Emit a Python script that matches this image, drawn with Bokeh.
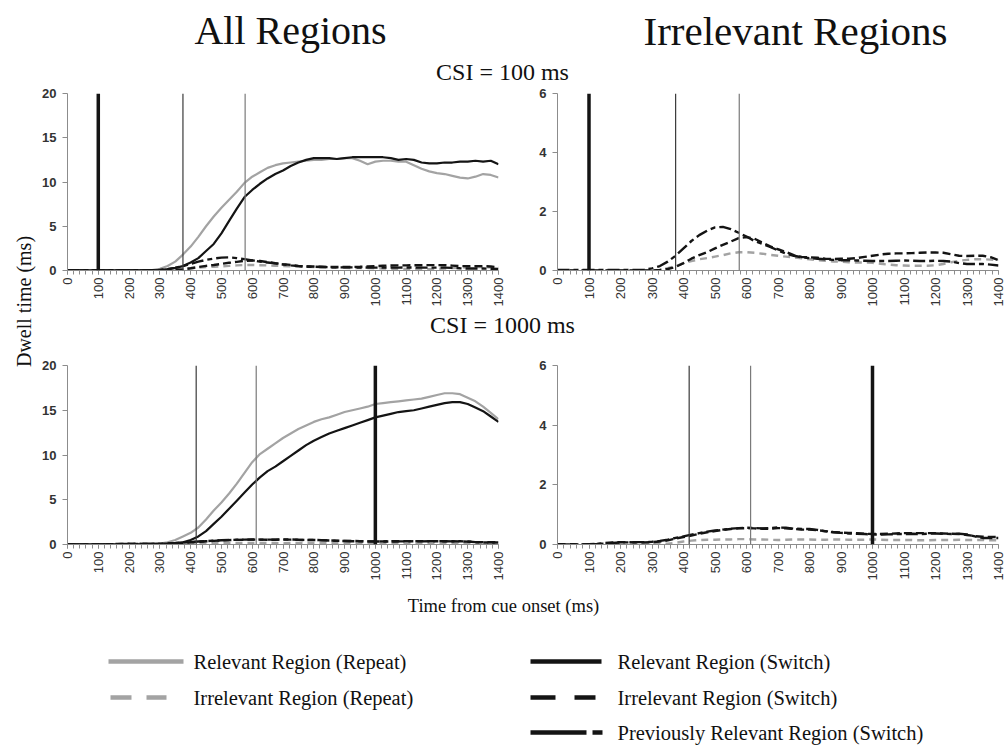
import math
from bokeh.plotting import figure
from bokeh.models import Range1d, Span, Label, SingleIntervalTicker, FixedTicker
from bokeh.layouts import row, column
from bokeh.embed import file_html
from bokeh.resources import INLINE

# ---------------- data ----------------
time_ms = list(range(0, 1401, 25))

# CSI = 100 ms
rel_repeat_100 = [0.02, 0.02, 0.03, 0.02, 0.02, 0.03, 0.02, 0.02, 0.03, 0.02,
                  0.03, 0.05, 0.2, 0.5, 1.0, 1.8, 2.7, 3.8, 5.0, 6.1,
                  7.1, 8.0, 8.9, 9.9, 10.6, 11.1, 11.6, 11.9, 12.1, 12.2,
                  12.3, 12.4, 12.5, 12.5, 12.6, 12.6, 12.7, 12.7, 12.4, 12.0,
                  12.3, 12.4, 12.4, 12.3, 12.3, 11.9, 11.5, 11.2, 11.0, 10.9,
                  10.7, 10.5, 10.4, 10.6, 10.9, 10.8, 10.5]
rel_switch_100 = [0.02, 0.03, 0.02, 0.02, 0.03, 0.02, 0.02, 0.03, 0.02, 0.02,
                  0.02, 0.03, 0.05, 0.15, 0.3, 0.5, 0.9, 1.4, 2.2, 3.0,
                  4.2, 5.6, 7.0, 8.3, 9.1, 9.8, 10.4, 10.9, 11.3, 11.8,
                  12.2, 12.5, 12.7, 12.7, 12.7, 12.6, 12.7, 12.8, 12.8, 12.8,
                  12.8, 12.8, 12.7, 12.5, 12.6, 12.5, 12.2, 12.1, 12.1, 12.2,
                  12.2, 12.3, 12.3, 12.4, 12.3, 12.4, 12.0]
irr_repeat_100 = [0.0, 0.0, 0.0, 0.0, 0.0, 0.0, 0.0, 0.0, 0.0, 0.0,
                  0.0, 0.0, 0.0, 0.02, 0.08, 0.15, 0.24, 0.32, 0.38, 0.42,
                  0.47, 0.52, 0.58, 0.62, 0.62, 0.6, 0.57, 0.53, 0.5, 0.47,
                  0.44, 0.41, 0.38, 0.35, 0.33, 0.3, 0.3, 0.28, 0.27, 0.27,
                  0.26, 0.23, 0.2, 0.18, 0.17, 0.16, 0.16, 0.16, 0.18, 0.22,
                  0.28, 0.33, 0.36, 0.38, 0.38, 0.37, 0.36]
irr_switch_100 = [0.0, 0.0, 0.0, 0.0, 0.0, 0.0, 0.0, 0.0, 0.0, 0.0,
                  0.0, 0.0, 0.0, 0.02, 0.05, 0.12, 0.25, 0.4, 0.52, 0.62,
                  0.75, 0.87, 0.98, 1.1, 1.13, 1.08, 0.95, 0.82, 0.72, 0.63,
                  0.52, 0.46, 0.45, 0.43, 0.4, 0.39, 0.4, 0.4, 0.42, 0.46,
                  0.5, 0.54, 0.57, 0.58, 0.58, 0.59, 0.6, 0.61, 0.61, 0.6,
                  0.55, 0.5, 0.49, 0.5, 0.5, 0.45, 0.35]
prev_switch_100 = [0.02, 0.02, 0.02, 0.02, 0.02, 0.02, 0.02, 0.02, 0.02, 0.02,
                   0.02, 0.03, 0.07, 0.15, 0.3, 0.5, 0.75, 1.0, 1.2, 1.35,
                   1.46, 1.48, 1.4, 1.28, 1.15, 1.0, 0.9, 0.8, 0.68, 0.58,
                   0.5, 0.45, 0.42, 0.4, 0.38, 0.36, 0.35, 0.35, 0.34, 0.33,
                   0.32, 0.32, 0.32, 0.33, 0.34, 0.33, 0.32, 0.32, 0.33, 0.32,
                   0.3, 0.25, 0.22, 0.22, 0.22, 0.2, 0.17]

# CSI = 1000 ms
rel_repeat_1000 = [0.02, 0.03, 0.02, 0.02, 0.03, 0.02, 0.02, 0.03, 0.02, 0.02,
                   0.02, 0.04, 0.1, 0.25, 0.5, 0.9, 1.3, 1.9, 2.8, 3.8,
                   4.7, 5.7, 6.8, 8.0, 9.2, 10.1, 10.7, 11.3, 11.9, 12.4,
                   12.9, 13.3, 13.7, 14.0, 14.2, 14.5, 14.8, 15.0, 15.2, 15.4,
                   15.7, 15.8, 15.9, 16.0, 16.1, 16.2, 16.3, 16.5, 16.7, 16.9,
                   16.9, 16.8, 16.4, 16.0, 15.4, 14.7, 14.0]
rel_switch_1000 = [0.02, 0.02, 0.03, 0.02, 0.02, 0.02, 0.03, 0.02, 0.02, 0.03,
                   0.02, 0.02, 0.03, 0.05, 0.1, 0.25, 0.5, 0.9, 1.5, 2.3,
                   3.1, 4.0, 4.9, 5.8, 6.7, 7.5, 8.2, 8.7, 9.3, 9.9,
                   10.5, 11.1, 11.6, 12.0, 12.4, 12.7, 13.0, 13.3, 13.6, 13.9,
                   14.2, 14.4, 14.6, 14.8, 14.9, 15.0, 15.2, 15.4, 15.6, 15.8,
                   15.9, 15.9, 15.7, 15.3, 14.9, 14.3, 13.7]
irr_repeat_1000 = [0.0, 0.0, 0.0, 0.0, 0.0, 0.0, 0.01, 0.01, 0.02, 0.02,
                   0.02, 0.02, 0.02, 0.02, 0.03, 0.06, 0.1, 0.13, 0.15, 0.16,
                   0.16, 0.17, 0.17, 0.18, 0.18, 0.17, 0.17, 0.16, 0.15, 0.16,
                   0.17, 0.17, 0.17, 0.16, 0.16, 0.17, 0.17, 0.16, 0.16, 0.16,
                   0.17, 0.16, 0.15, 0.15, 0.15, 0.15, 0.14, 0.14, 0.15, 0.15,
                   0.15, 0.16, 0.15, 0.15, 0.15, 0.14, 0.14]
irr_switch_1000 = [0.01, 0.01, 0.01, 0.0, 0.0, 0.02, 0.05, 0.07, 0.08, 0.08,
                   0.07, 0.07, 0.08, 0.1, 0.14, 0.2, 0.25, 0.3, 0.36, 0.41,
                   0.45, 0.49, 0.52, 0.54, 0.55, 0.54, 0.53, 0.53, 0.55, 0.54,
                   0.52, 0.5, 0.5, 0.48, 0.45, 0.42, 0.4, 0.39, 0.38, 0.36,
                   0.35, 0.35, 0.36, 0.37, 0.38, 0.38, 0.38, 0.38, 0.38, 0.37,
                   0.36, 0.35, 0.32, 0.28, 0.26, 0.25, 0.25]
prev_switch_1000 = [0.0, 0.0, 0.0, 0.0, 0.01, 0.02, 0.03, 0.05, 0.07, 0.07,
                    0.08, 0.08, 0.09, 0.12, 0.16, 0.22, 0.27, 0.33, 0.38, 0.43,
                    0.47, 0.5, 0.53, 0.55, 0.56, 0.55, 0.54, 0.55, 0.57, 0.56,
                    0.53, 0.52, 0.52, 0.49, 0.44, 0.41, 0.39, 0.37, 0.36, 0.35,
                    0.34, 0.33, 0.34, 0.35, 0.35, 0.36, 0.35, 0.36, 0.37, 0.36,
                    0.35, 0.36, 0.34, 0.27, 0.22, 0.22, 0.22]

# vertical markers: [cue-stimulus interval, first thin line, second thin line]
markers_100 = [100, 375, 577]
markers_1000 = [1000, 418, 613]

all_ticks = [0, 5, 10, 15, 20]
irr_ticks = [0, 2, 4, 6]

legend_labels = ["Relevant Region (Repeat)", "Irrelevant Region (Repeat)",
                 "Relevant Region (Switch)", "Irrelevant Region (Switch)",
                 "Previously Relevant Region (Switch)"]

# ---------------- style ----------------
GRAY = "#a3a3a3"
BLACK = "#141414"
SERIF = "Liberation Serif"
SANS = "Liberation Sans"

STY = {
    "rel_rep": dict(color=GRAY, line_width=2.2, line_dash="solid"),
    "rel_sw": dict(color=BLACK, line_width=2.2, line_dash="solid"),
    "irr_rep": dict(color=GRAY, line_width=2.4, line_dash="7 5"),
    "irr_sw": dict(color=BLACK, line_width=2.4, line_dash="8 4"),
    "prev_sw": dict(color=BLACK, line_width=2.4, line_dash="12 4 5 4"),
}


def canvas(w, h):
    p = figure(width=w, height=h, x_range=Range1d(0, w), y_range=Range1d(0, h),
               x_axis_type=None, y_axis_type=None, output_backend="svg",
               toolbar_location=None, min_border=0)
    p.outline_line_color = None
    p.xgrid.visible = False
    p.ygrid.visible = False
    return p


def panel(w, h, bl, br, bt, bb, ymax, yticks, series, keys, markers):
    p = figure(width=w, height=h, x_range=Range1d(0, 1400), y_range=Range1d(0, ymax),
               output_backend="svg", toolbar_location=None,
               min_border_left=bl, min_border_right=br,
               min_border_top=bt, min_border_bottom=bb)
    p.outline_line_color = None
    p.xgrid.visible = False
    p.ygrid.visible = False
    xa = p.xaxis[0]
    xa.ticker = SingleIntervalTicker(interval=100, num_minor_ticks=5)
    xa.major_label_orientation = math.pi / 2
    xa.major_label_text_font = SANS
    xa.major_label_text_font_size = "13px"
    xa.major_label_text_color = "#333333"
    xa.major_label_standoff = 3
    xa.major_tick_out = 4
    xa.major_tick_in = 0
    xa.minor_tick_out = 4
    xa.minor_tick_in = 0
    xa.axis_line_color = "#8c8c8c"
    xa.major_tick_line_color = "#8c8c8c"
    xa.minor_tick_line_color = "#8c8c8c"
    ya = p.yaxis[0]
    ya.ticker = FixedTicker(ticks=yticks)
    ya.major_label_text_font = SANS
    ya.major_label_text_font_style = "bold"
    ya.major_label_text_font_size = "13px"
    ya.major_label_text_color = "#333333"
    ya.major_label_standoff = 6
    ya.major_tick_out = 5
    ya.major_tick_in = 0
    ya.minor_tick_line_color = None
    ya.axis_line_color = "#8c8c8c"
    ya.major_tick_line_color = "#8c8c8c"

    for key in keys:
        p.line(time_ms, series[key], **STY[key])

    thick, thin1, thin2 = markers
    p.add_layout(Span(location=thin1, dimension="height", line_color="#3a3a3a", line_width=1.2))
    p.add_layout(Span(location=thin2, dimension="height", line_color="#7a7a7a", line_width=1.2))
    p.add_layout(Span(location=thick, dimension="height", line_color=BLACK, line_width=3.5))
    return p


s100 = dict(rel_rep=rel_repeat_100, rel_sw=rel_switch_100, irr_rep=irr_repeat_100,
            irr_sw=irr_switch_100, prev_sw=prev_switch_100)
s1000 = dict(rel_rep=rel_repeat_1000, rel_sw=rel_switch_1000, irr_rep=irr_repeat_1000,
             irr_sw=irr_switch_1000, prev_sw=prev_switch_1000)

all_keys = ["irr_rep", "rel_rep", "irr_sw", "prev_sw", "rel_sw"]
irr_keys = ["irr_rep", "irr_sw", "prev_sw"]

TOTAL_W = 1005
YLAB_W = 36
TL_W = 491
TR_W = TOTAL_W - YLAB_W - TL_W   # 478

HEAD_H = 84     # 0..84
TOP_H = 225     # 84..309  (frame 93..271)
MID_H = 46      # 309..355
BOT_H = 229     # 355..584 (frame 365..544)
FOOT_H = 161    # 584..745

tl = panel(TL_W, TOP_H, 31, 29, 9, 38, 20, all_ticks, s100, all_keys, markers_100)
tr = panel(TR_W, TOP_H, 30, 7, 9, 38, 6, irr_ticks, s100, irr_keys, markers_100)
bl = panel(TL_W, BOT_H, 31, 29, 10, 40, 20, all_ticks, s1000, all_keys, markers_1000)
br = panel(TR_W, BOT_H, 30, 7, 10, 40, 6, irr_ticks, s1000, irr_keys, markers_1000)

# header
head = canvas(TOTAL_W, HEAD_H)
head.add_layout(Label(x=290, y=HEAD_H - 30, text="All Regions", text_font=SERIF,
                      text_font_size="40px", text_align="center", text_baseline="middle",
                      text_color="#111111"))
head.add_layout(Label(x=795, y=HEAD_H - 30, text="Irrelevant Regions", text_font=SERIF,
                      text_font_size="41px", text_align="center", text_baseline="middle",
                      text_color="#111111"))
head.add_layout(Label(x=502, y=HEAD_H - 71, text="CSI = 100 ms", text_font=SERIF,
                      text_font_size="24px", text_align="center", text_baseline="middle",
                      text_color="#111111"))

# middle strip
mid = canvas(TL_W + TR_W, MID_H)
mid.add_layout(Label(x=502 - YLAB_W, y=MID_H - 15, text="CSI = 1000 ms", text_font=SERIF,
                     text_font_size="24px", text_align="center", text_baseline="middle",
                     text_color="#111111"))

# y label strip
YL_H = TOP_H + MID_H + BOT_H
ylab = canvas(YLAB_W, YL_H)
ylab.add_layout(Label(x=23, y=YL_H - (301 - HEAD_H), text="Dwell time (ms)", text_font=SERIF,
                      text_font_size="20px", text_align="center", text_baseline="middle",
                      angle=math.pi / 2, text_color="#111111"))

# footer with x label and legend
foot = canvas(TOTAL_W, FOOT_H)
foot.add_layout(Label(x=503, y=FOOT_H - 21, text="Time from cue onset (ms)", text_font=SERIF,
                      text_font_size="18.5px", text_align="center", text_baseline="middle",
                      text_color="#111111"))

FOOT_TOP = HEAD_H + TOP_H + MID_H + BOT_H   # 584
rows_y = [FOOT_H - (661 - FOOT_TOP), FOOT_H - (697 - FOOT_TOP), FOOT_H - (732 - FOOT_TOP)]
leg = [
    (108, 183, rows_y[0], GRAY, "solid", legend_labels[0], 193),
    (110, 166, rows_y[1], GRAY, "21 15", legend_labels[1], 193),
    (530, 601, rows_y[0], BLACK, "solid", legend_labels[2], 617),
    (530, 595, rows_y[1], BLACK, "25 19", legend_labels[3], 617),
    (530, 602, rows_y[2], BLACK, "56 6 10 20", legend_labels[4], 617),
]
for x0, x1, yy, col, dash, lab, tx in leg:
    foot.line([x0, x1], [yy, yy], line_color=col, line_width=4.5, line_dash=dash)
    foot.add_layout(Label(x=tx, y=yy, text=lab, text_font=SERIF, text_font_size="20.5px",
                          text_align="left", text_baseline="middle", text_color="#111111"))

layout = column(
    head,
    row(ylab, column(row(tl, tr), mid, row(bl, br))),
    foot,
)

open("out.html", "w").write(file_html(layout, INLINE))
